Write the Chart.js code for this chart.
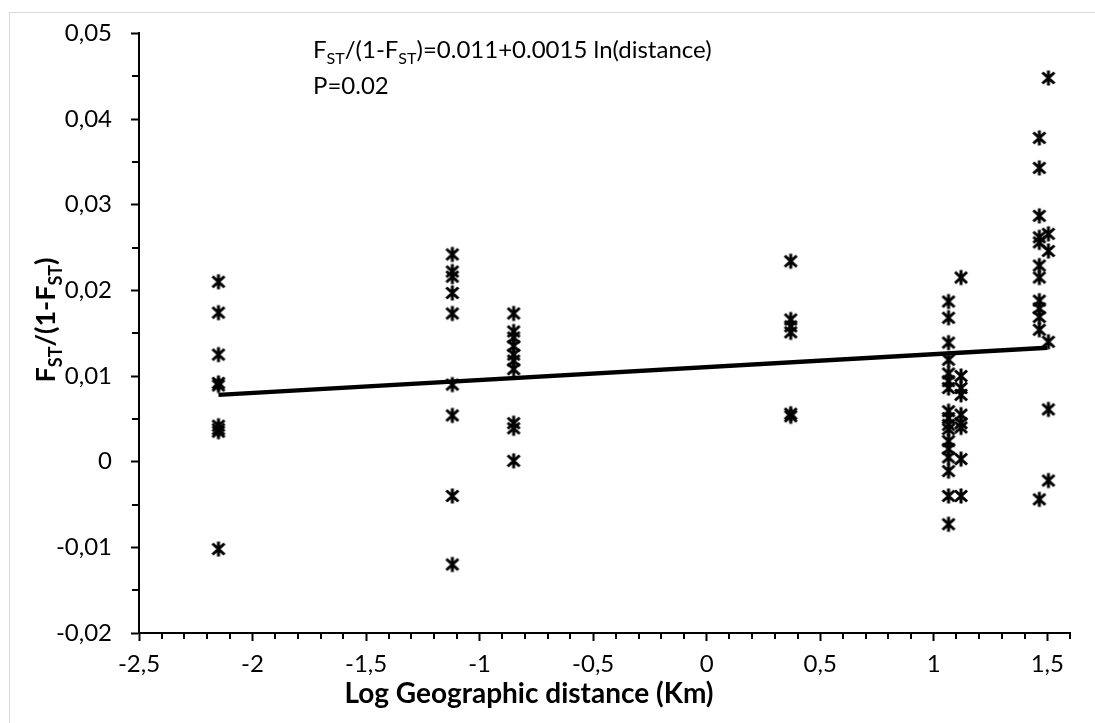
<!DOCTYPE html>
<html>
<head>
<meta charset="utf-8">
<script src="https://cdn.jsdelivr.net/npm/chart.js@4/dist/chart.umd.min.js"></script>
<style>
body { margin:0; background:#fff; }
</style>
</head>
<body>
<canvas id="myChart" width="1095" height="723"></canvas>
<script>
// x position of each group of pairs (log km)
var groupX = [-2.15, -1.12, -0.85, 0.37, 1.065, 1.12, 1.465, 1.505];

// Fst/(1-Fst) values per group
var g1 = [0.0210, 0.0174, 0.0125, 0.0092, 0.0089, 0.0042, 0.0038, 0.0035, -0.0102];
var g2 = [0.0242, 0.0222, 0.0216, 0.0197, 0.0173, 0.0090, 0.0054, -0.0040, -0.0120];
var g3 = [0.0173, 0.0152, 0.0145, 0.0135, 0.0125, 0.0118, 0.0108, 0.0045, 0.0039, 0.0001];
var g4 = [0.0234, 0.0166, 0.0158, 0.0151, 0.0056, 0.0053];
var g5 = [0.0187, 0.0168, 0.0139, 0.0119, 0.0103, 0.0094, 0.0086, 0.0059, 0.0051, 0.0043, 0.0038, 0.0024, 0.0015, 0.0005, -0.0011, -0.0040, -0.0073];
var g6 = [0.0215, 0.0100, 0.0086, 0.0078, 0.0055, 0.0045, 0.0040, 0.0003, -0.0040];
var g7 = [0.0378, 0.0343, 0.0287, 0.0262, 0.0256, 0.0229, 0.0215, 0.0188, 0.0179, 0.0169, 0.0154, -0.0044];
var g8 = [0.0448, 0.0266, 0.0246, 0.0140, 0.0061, -0.0022];
var groups = [g1, g2, g3, g4, g5, g6, g7, g8];

// regression line end points
var trendX = [-2.15, 1.5];
var trendY = [0.0078, 0.0133];

var pts = [];
for (var i = 0; i < groups.length; i++) {
  for (var j = 0; j < groups[i].length; j++) {
    pts.push({x: groupX[i], y: groups[i][j]});
  }
}
var line = [];
for (var i = 0; i < trendX.length; i++) line.push({x: trendX[i], y: trendY[i]});

// excel style star marker: x with a vertical bar
var star = document.createElement('canvas');
star.width = 18; star.height = 18;
var sc = star.getContext('2d');
sc.strokeStyle = '#000';
sc.lineWidth = 3;
sc.beginPath();
sc.moveTo(3, 3.5); sc.lineTo(15, 14.5);
sc.moveTo(15, 3.5); sc.lineTo(3, 14.5);
sc.moveTo(9, 1.5); sc.lineTo(9, 16.5);
sc.stroke();

var FONT = 'Lato, "Open Sans", sans-serif';

function comma(v) {
  var r = Math.round(v * 1000) / 1000;
  return String(r).replace('.', ',');
}

// draw text pieces with subscripts
function drawRich(ctx, parts, x, y, size, bold) {
  var w = x;
  for (var i = 0; i < parts.length; i++) {
    var p = parts[i];
    var s = p.sub ? Math.round(size * 0.68) : size;
    ctx.font = (bold ? 'bold ' : '') + s + 'px ' + FONT;
    ctx.fillText(p.t, w, y + (p.sub ? size * 0.25 : 0));
    w += ctx.measureText(p.t).width;
  }
  return w - x;
}
function richWidth(ctx, parts, size, bold) {
  var w = 0;
  for (var i = 0; i < parts.length; i++) {
    var s = parts[i].sub ? Math.round(size * 0.68) : size;
    ctx.font = (bold ? 'bold ' : '') + s + 'px ' + FONT;
    w += ctx.measureText(parts[i].t).width;
  }
  return w;
}

var extras = {
  id: 'extras',
  beforeDraw: function(chart) {
    var ctx = chart.ctx;
    ctx.save();
    ctx.fillStyle = '#fff';
    ctx.fillRect(0, 0, chart.width, chart.height);
    ctx.strokeStyle = '#d9d9d9';
    ctx.lineWidth = 1;
    ctx.strokeRect(9.5, 12.5, 1090, 720);
    ctx.restore();
  },
  afterDraw: function(chart) {
    var ctx = chart.ctx, xs = chart.scales.x, ys = chart.scales.y;
    ctx.save();
    ctx.strokeStyle = '#000';
    ctx.lineWidth = 2;
    ctx.beginPath();
    // minor ticks
    for (var i = -25; i <= 16; i++) {
      if (i % 5 === 0) continue;
      var px = Math.round(xs.getPixelForValue(i / 10));
      ctx.moveTo(px, ys.bottom); ctx.lineTo(px, ys.bottom + 6);
    }
    for (var k = -4; k <= 10; k += 2) {
      var py = Math.round(ys.getPixelForValue(k * 0.005 + 0.005));
      if (py < ys.top - 1) continue;
      ctx.moveTo(xs.left, py); ctx.lineTo(xs.left - 7, py);
    }
    ctx.stroke();

    ctx.fillStyle = '#000';
    ctx.textBaseline = 'alphabetic';
    ctx.textAlign = 'left';
    // equation text
    var eq = [{t: 'F'}, {t: 'ST', sub: true}, {t: '/(1-F'}, {t: 'ST', sub: true}, {t: ')=0.011+0.0015 ln(distance)'}];
    drawRich(ctx, eq, 313, 58, 24, false);
    ctx.font = '24px ' + FONT;
    ctx.fillText('P=0.02', 313, 94);

    // x title
    ctx.font = 'bold 28px ' + FONT;
    ctx.textAlign = 'center';
    ctx.fillText('Log Geographic distance (Km)', 529, 703);

    // y title
    ctx.textAlign = 'left';
    var yt = [{t: 'F'}, {t: 'ST', sub: true}, {t: '/(1-F'}, {t: 'ST', sub: true}, {t: ')'}];
    var tw = richWidth(ctx, yt, 27, true);
    ctx.translate(55, 320);
    ctx.rotate(-Math.PI / 2);
    drawRich(ctx, yt, -tw / 2, 0, 27, true);
    ctx.restore();
  }
};

var ctx = document.getElementById('myChart').getContext('2d');
var chart = new Chart(ctx, {
  type: 'scatter',
  data: {
    datasets: [
      {
        data: pts,
        pointStyle: star,
        pointRadius: 9,
        showLine: false
      },
      {
        data: line,
        showLine: true,
        borderColor: '#000',
        borderWidth: 4.5,
        pointRadius: 0,
        pointHoverRadius: 0
      }
    ]
  },
  plugins: [extras],
  options: {
    responsive: false,
    animation: false,
    devicePixelRatio: 1,
    layout: { padding: { top: 30, right: 25, left: 0, bottom: 0 } },
    plugins: { legend: { display: false }, tooltip: { enabled: false } },
    scales: {
      x: {
        type: 'linear',
        min: -2.5, max: 1.6,
        afterFit: function(s) { s.height = 90; },
        afterBuildTicks: function(s) {
          var t = [];
          for (var i = -5; i <= 3; i++) t.push({value: i * 0.5});
          s.ticks = t;
        },
        border: { color: '#000', width: 2 },
        grid: { drawOnChartArea: false, drawTicks: true, tickLength: 8, tickColor: '#000', tickWidth: 2 },
        ticks: {
          padding: 9, color: '#000', maxRotation: 0, autoSkip: false,
          font: { family: FONT, size: 24 },
          callback: function(v) { return comma(v); }
        }
      },
      y: {
        min: -0.02, max: 0.05,
        afterFit: function(s) { s.width = 139; },
        border: { color: '#000', width: 2 },
        grid: { drawOnChartArea: false, drawTicks: true, tickLength: 8, tickColor: '#000', tickWidth: 2 },
        ticks: {
          stepSize: 0.01, padding: 19, color: '#000',
          font: { family: FONT, size: 24 },
          callback: function(v) { return comma(v); }
        }
      }
    }
  }
});
</script>
</body>
</html>
